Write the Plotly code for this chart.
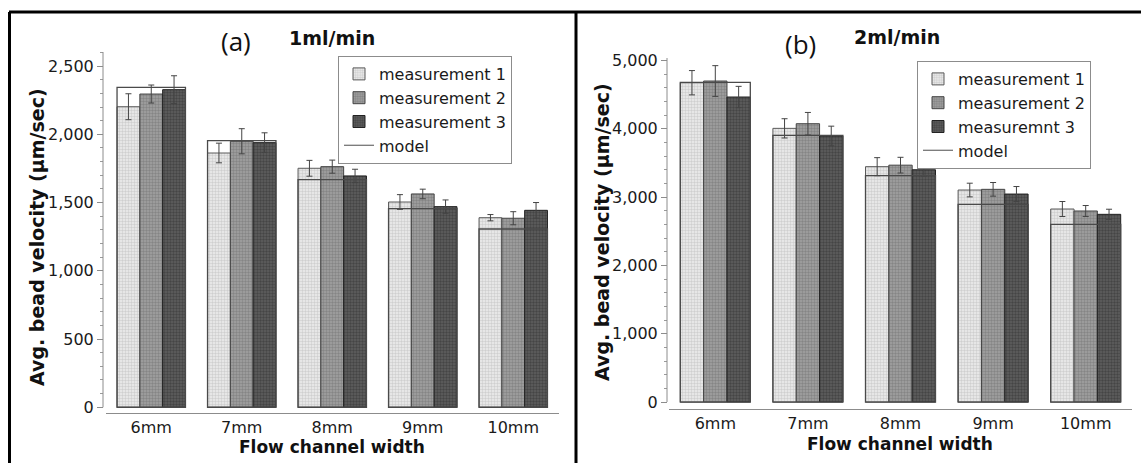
import plotly.graph_objects as go

W, H = 1141, 463

categories = ["6mm", "7mm", "8mm", "9mm", "10mm"]

# Panel (a) 1ml/min
a_m1 = [2202, 1863, 1751, 1504, 1389]
a_e1 = [95, 72, 58, 54, 23]
a_m2 = [2295, 1949, 1763, 1563, 1385]
a_e2 = [66, 92, 48, 35, 48]
a_m3 = [2327, 1939, 1695, 1470, 1443]
a_e3 = [102, 72, 49, 49, 57]
a_model = [2344, 1953, 1668, 1455, 1306]

# Panel (b) 2ml/min
b_m1 = [4675, 4007, 3446, 3104, 2826]
b_e1 = [178, 141, 132, 100, 110]
b_m2 = [4700, 4075, 3468, 3114, 2797]
b_e2 = [225, 165, 115, 100, 80]
b_m3 = [4466, 3895, 3401, 3045, 2748]
b_e3 = [156, 144, 95, 110, 75]
b_model = [4680, 3905, 3315, 2894, 2602]

names_a = ["measurement 1", "measurement 2", "measurement 3", "model"]
names_b = ["measurement 1", "measurement 2", "measuremnt 3", "model"]

styles = [
    dict(bg="#eeeeee", fg="#cfcfcf", line="#5a5a5a"),
    dict(bg="#a3a3a3", fg="#858585", line="#444444"),
    dict(bg="#606060", fg="#454545", line="#222222"),
]

BW = 0.252
offsets = [-1.5 * BW, -0.5 * BW, 0.5 * BW]
FONT = "DejaVu Sans"

fig = go.Figure()


def add_panel(meas, errs, model, names, xa, ya, legend):
    for i, (vals, err) in enumerate(zip(meas, errs)):
        st = styles[i]
        fig.add_trace(go.Bar(
            x=categories, y=vals, name=names[i], xaxis=xa, yaxis=ya,
            legend=legend, width=BW, offset=offsets[i],
            marker=dict(color=st["bg"], line=dict(color=st["line"], width=1),
                        pattern=dict(shape=".", size=3, solidity=0.5,
                                     fgcolor=st["fg"], bgcolor=st["bg"])),
            error_y=dict(type="data", array=err, color="#444444",
                         thickness=1, width=3),
        ))
    fig.add_trace(go.Bar(
        x=categories, y=model, name=names[3], xaxis=xa, yaxis=ya,
        legend=legend, showlegend=False, width=3 * BW, offset=-1.5 * BW,
        marker=dict(color="rgba(0,0,0,0)", line=dict(color="#4a4a4a", width=1.3)),
    ))
    fig.add_trace(go.Scatter(
        x=[None], y=[None], mode="lines", name=names[3], xaxis=xa, yaxis=ya,
        legend=legend, line=dict(color="#777777", width=1.3),
    ))


add_panel([a_m1, a_m2, a_m3], [a_e1, a_e2, a_e3], a_model, names_a, "x", "y", "legend")
add_panel([b_m1, b_m2, b_m3], [b_e1, b_e2, b_e3], b_model, names_b, "x2", "y2", "legend2")


def px(x):
    return x / W


def py(y):
    return 1 - y / H


axis_common = dict(showgrid=False, zeroline=False, automargin=False)
xcommon = dict(axis_common, type="category", range=[-0.5, 4.5], showline=True,
               linecolor="#8c8c8c", linewidth=1, ticks="",
               tickfont=dict(family=FONT, size=16, color="#1a1a1a"))
ycommon = dict(axis_common, showline=False, ticks="outside", ticklen=6,
               tickcolor="#8c8c8c", tickformat=",d",
               tickfont=dict(family=FONT, size=16, color="#1a1a1a"))

yr_a = [-42, 2603]
yr_b = [-102, 5037]

fig.update_layout(
    template="none",
    width=W, height=H, autosize=False,
    margin=dict(l=0, r=0, t=0, b=0),
    paper_bgcolor="white", plot_bgcolor="rgba(0,0,0,0)",
    barmode="overlay",
    showlegend=True,
    xaxis=dict(xcommon, domain=[px(106), px(558.5)], anchor="y"),
    yaxis=dict(ycommon, domain=[py(413), py(52)], range=yr_a, anchor="free",
               position=px(103), dtick=500,
               minor=dict(dtick=100, ticks="outside", ticklen=3, tickcolor="#9a9a9a")),
    xaxis2=dict(xcommon, domain=[px(669), px(1132)], anchor="y2"),
    yaxis2=dict(ycommon, domain=[py(409), py(58)], range=yr_b, anchor="free",
                position=px(667), dtick=1000,
                minor=dict(dtick=200, ticks="outside", ticklen=3, tickcolor="#9a9a9a")),
    legend=dict(x=px(512), xanchor="right", y=py(56), yanchor="top",
                bgcolor="white", bordercolor="#8c8c8c", borderwidth=1,
                font=dict(family=FONT, size=16, color="#1a1a1a"),
                traceorder="normal"),
    legend2=dict(x=px(1091), xanchor="right", y=py(61), yanchor="top",
                 bgcolor="white", bordercolor="#8c8c8c", borderwidth=1,
                 font=dict(family=FONT, size=16, color="#1a1a1a"),
                 traceorder="normal"),
)

shapes = [
    # outer frame
    dict(type="line", xref="paper", yref="paper", x0=px(9), x1=1, y0=py(12), y1=py(12),
         line=dict(color="black", width=3)),
    dict(type="line", xref="paper", yref="paper", x0=px(9.5), x1=px(9.5), y0=0, y1=py(12),
         line=dict(color="black", width=3)),
    dict(type="line", xref="paper", yref="paper", x0=px(576), x1=px(576), y0=0, y1=py(12),
         line=dict(color="black", width=3)),
    # y axis lines
    dict(type="line", xref="paper", yref="y", x0=px(103), x1=px(103), y0=0, y1=yr_a[1],
         line=dict(color="#8c8c8c", width=1)),
    dict(type="line", xref="paper", yref="y2", x0=px(667), x1=px(667), y0=0, y1=yr_b[1],
         line=dict(color="#8c8c8c", width=1)),
]
fig.update_layout(shapes=shapes)


def note(text, x, y, size, family=FONT, angle=0):
    return dict(text=text, x=px(x), y=py(y), xref="paper", yref="paper",
                xanchor="center", yanchor="middle", textangle=angle,
                showarrow=False, font=dict(family=family, size=size, color="#111"))


ytitle = "Avg. bead velocity (µm/sec)"
xtitle = "Flow channel width"
ann = [
    note(f"<b>{ytitle}</b>", 37, 237, 19, angle=-90),
    note(f"<b>{ytitle}</b>", 602, 232, 19, angle=-90),
    note(f"<b>{xtitle}</b>", 332, 447, 17),
    note(f"<b>{xtitle}</b>", 900, 444, 17),
    note("(a)", 236, 41, 26, family="Open Sans"),
    note("<b>1ml/min</b>", 332, 38, 19),
    note("(b)", 800, 44, 26, family="Open Sans"),
    note("<b>2ml/min</b>", 897, 37, 19),
]
fig.update_layout(annotations=ann)

fig.write_html("out.html")
